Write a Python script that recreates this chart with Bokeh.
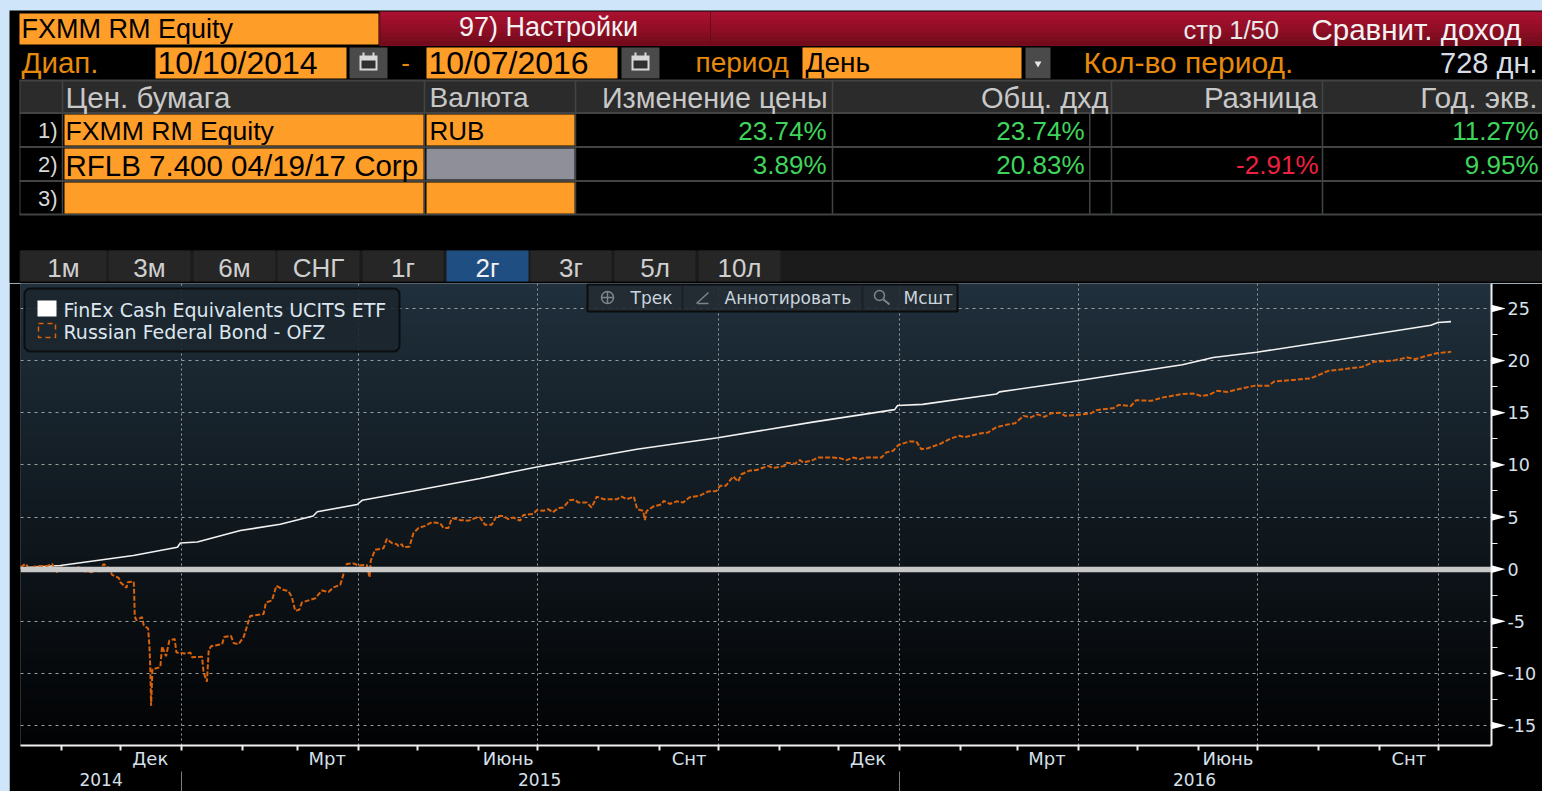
from datetime import datetime, timedelta
import numpy as np
from bokeh.plotting import figure
from bokeh.models import (Range1d, LinearAxis, FixedTicker, Grid, Label, BoxAnnotation)
from bokeh.core.properties import value
from bokeh.embed import file_html
from bokeh.resources import INLINE

# ---------- data ----------
START = datetime(2014, 10, 10)
white_days = [0, 21.3, 58.4, 80.8, 82.3, 90.9, 112.8, 133.1, 149.8, 151.9, 172.2, 174.7, 200.6, 234.7, 263.6,
              314.4, 355.6, 403.8, 445.5, 447, 459.7, 497.3, 498.8, 539.2, 591.8, 607.5, 629.6, 674.4, 718.2,
              721.8, 728.4]
white_vals = [0.1, 0.35, 1.3, 2.1, 2.5, 2.6, 3.7, 4.3, 5.1, 5.5, 6.2, 6.6, 7.5, 8.7, 9.8,
              11.5, 12.6, 14.1, 15.3, 15.7, 15.8, 16.8, 17.0, 18.1, 19.6, 20.3, 20.8, 22.1, 23.4,
              23.65, 23.74]
orange_days = [1, 3.6, 5.2, 9.5, 14.6, 17.1, 19.6, 21.3, 27.3, 30.6, 31.5, 37.4, 39.1, 40.8, 43.3, 45.9, 47.6, 51,
               51.8, 54.9, 55.5, 58.6, 58.9, 59.1, 59.9, 62.8, 63.7, 65.9, 66.5, 67, 67.4, 68.1, 72.1, 73, 75, 76.7,
               79.4, 80.3, 85.7, 87.4, 88.2, 93.3, 94.1, 95.8, 96.7, 97.9, 103.5, 104.6, 108, 109.4, 111.9, 114.5,
               117.8, 124.6, 125.8, 128.9, 131.1, 134.8, 137.3, 139, 140.7, 142.7, 144.1, 150.9, 154.2, 157.6, 160.2,
               163.6, 165.3, 166.9, 170.3, 172.9, 177.1, 178.5, 179.1, 181.3, 185.6, 187.3, 189.8, 192.3, 193.2,
               194.9, 195.7, 198.8, 200.8, 203.4, 206.7, 210.1, 214.4, 216.1, 218.6, 220.3, 224.5, 228.8, 233,
               234.7, 237.2, 240.6, 243.1, 246.5, 249.1, 251.6, 255, 256.7, 261.8, 263.5, 266.9, 269.4, 271.6,
               274.5, 277, 280.1, 282.9, 284.6, 288.9, 291.4, 294, 297.7, 304.1, 306.7, 309.2, 312.9, 314.6,
               317.6, 318.5, 319.3, 322.7, 326.9, 328.1, 331.2, 334.6, 338, 341.3, 346.4, 350.7, 354.9, 356.9,
               359.7, 363.4, 365.9, 367.6, 371.8, 375.2, 381.1, 383.7, 389.6, 390.5, 394.7, 397.3, 398.9, 403.2,
               406.6, 414.2, 417.6, 421, 424.3, 427.7, 430.3, 438.8, 441.3, 444.7, 447.3, 453.1, 456.5, 459.1,
               462.4, 468.4, 474.3, 478.5, 481, 488.7, 492.9, 497.1, 502.4, 506.8, 511.1, 514.7, 518.2, 521.7,
               525.2, 529.6, 532.2, 539.3, 545.4, 548, 556.8, 559.4, 565.6, 568.3, 576.1, 581.4, 591.9, 597.2,
               601.6, 605.1, 609.5, 614.8, 620.1, 628.8, 635.8, 638.5, 648.1, 657, 662.2, 665.7, 674.5, 683.3,
               689.4, 699, 706, 710.5, 714.8, 721, 728.5]
orange_vals = [0.2, 0.5, 0.1, 0.3, 0.3, 0.5, -0.3, 0.2, -0.2, 0.2, -0.15, -0.3, 0.1, -0.3, 0.5, 0.1, -0.55, -0.85,
               -1.25, -1.8, -1.25, -1.2, -3, -4.55, -4.9, -4.6, -5.4, -5.7, -7.2, -9.4, -13.1, -9.6, -9.4, -7.4, -8.35, -6.85,
               -6.7, -8.0, -8.1, -8.0, -8.45, -8.4, -9.9, -10.8, -7.8, -7.4, -7.2, -6.5, -6.4, -7.1, -7.2, -6.5,
               -4.5, -4.3, -3.2, -3, -1.6, -2, -2.1, -2.7, -4, -3.9, -3.2, -2.8, -2.05, -2.2, -1.75,
               -1.5, -0.45, 0.5, 0.55, 0.35, 0.4, -0.8, 0.8, 1.85, 2, 2.9, 2.5, 2.4, 2.2,
               2.4, 2.1, 2.15, 3.45, 3.95, 4.15, 4.5, 4.4, 3.95, 3.95, 4.9, 4.7, 4.65, 4.95,
               4.95, 4.25, 4.25, 5.1, 5.1, 4.8, 4.95, 4.65, 5.2, 5.3, 5.65, 5.6, 5.75, 5.45,
               5.85, 5.9, 6.6, 6.65, 6.4, 6.4, 5.9, 6.95, 6.7, 6.7, 6.95, 6.7, 6.95, 5.75,
               5.6, 4.7, 5.55, 6, 6.2, 6.55, 6.25, 6.5, 6.4, 6.9, 7.05, 7.45, 7.5, 8,
               8, 8.9, 8.4, 9.1, 9.45, 9.5, 9.9, 9.7, 9.9, 10.2, 10.1, 10.45, 10.25, 10.4,
               10.7, 10.7, 10.65, 10.45, 10.7, 10.55, 10.7, 10.7, 11.2, 11.35, 11.9, 12.25, 12.25, 11.5,
               11.6, 12, 12.55, 12.8, 12.65, 13, 13.1, 13.6, 13.85, 14, 14.7, 14.55, 14.85, 14.6,
               14.95, 15, 14.7, 14.8, 14.95, 15.25, 15.45, 15.75, 15.65, 16.2, 16.15, 16.45, 16.8, 16.85,
               16.6, 16.7, 17.1, 17, 17.25, 17.6, 17.6, 18, 18.15, 18.3, 18.7, 19, 19.2, 19.4,
               19.9, 20, 20.3, 20.15, 20.4, 20.7, 20.85]
y_ticks = [-15, -10, -5, 0, 5, 10, 15, 20, 25]
y_minor = [-12.5, -7.5, -2.5, 2.5, 7.5, 12.5, 17.5, 22.5]
quarter_starts = ["2015-01-01", "2015-04-01", "2015-07-01", "2015-10-01", "2016-01-01", "2016-04-01", "2016-07-01", "2016-10-01"]
month_starts = ["2014-11-01", "2014-12-01", "2015-01-01", "2015-02-01", "2015-03-01", "2015-04-01", "2015-05-01",
                "2015-06-01", "2015-07-01", "2015-08-01", "2015-09-01", "2015-10-01", "2015-11-01", "2015-12-01",
                "2016-01-01", "2016-02-01", "2016-03-01", "2016-04-01", "2016-05-01", "2016-06-01", "2016-07-01",
                "2016-08-01", "2016-09-01", "2016-10-01"]
month_labels = {"2014-12-16": "Дек", "2015-03-16": "Мрт", "2015-06-16": "Июнь", "2015-09-16": "Снт",
                "2015-12-16": "Дек", "2016-03-16": "Мрт", "2016-06-16": "Июнь", "2016-09-16": "Снт"}
year_labels = {"2014-11-21": "2014", "2015-07-02": "2015", "2016-05-30": "2016"}
year_starts = ["2015-01-01", "2016-01-01"]
tabs = ["1м", "3м", "6м", "СНГ", "1г", "2г", "3г", "5л", "10л"]
rows = [("1)", "FXMM RM Equity", "RUB", "23.74%", "23.74%", "", "11.27%"),
        ("2)", "RFLB 7.400 04/19/17 Corp", "", "3.89%", "20.83%", "-2.91%", "9.95%"),
        ("3)", "", "", "", "", "", "")]
series_names = ["FinEx Cash Equivalents UCITS ETF", "Russian Federal Bond - OFZ"]

# ---------- style ----------
BLUE = "#cfe6fa"
ORANGE = "#fe9d28"
AMBER = "#e58a0c"
GREEN = "#3fd45c"
RED = "#f0213f"
LINE = "#414345"
HEAD = "Liberation Sans"
CHART = "DejaVu Sans"


def ms(s):
    return datetime.fromisoformat(s).timestamp() * 1000


def dms(n):
    return (START + timedelta(days=n)).timestamp() * 1000


# ---------- header panel (page pixels) ----------
h = figure(width=1542, height=283, x_range=Range1d(0, 1542), y_range=Range1d(283, 0),
           output_backend="svg", toolbar_location=None, min_border=0, outline_line_color=None,
           background_fill_color=BLUE, border_fill_color=BLUE)
h.axis.visible = False
h.grid.visible = False


def Q(x0, x1, y0, y1, c):
    h.quad(left=[x0], right=[x1], top=[y0], bottom=[y1], fill_color=c, line_alpha=0)


def T(x, y, s, c="#d6d6d6", size=26, align="left", font=HEAD):
    if s:
        h.text(x=[x], y=[y], text=[s], text_color=c, text_font_size=f"{size}px", text_align=align,
               text_baseline="middle", text_font=value(font))


Q(9, 1542, 10, 283, "#000000")
# title bar
reds = ["#a81130", "#a2102d", "#9b0f2a", "#950e28", "#8d0e25", "#850d22", "#7c0c20", "#730b1d"]
for i, c in enumerate(reds):
    Q(379, 1542, 11 + i * 4.25, 45, c)
Q(709.5, 710.5, 11, 45, "#6a0b1a")
Q(379, 380, 11, 45, "#6a0b1a")
Q(19, 378, 13, 44, ORANGE)
T(21, 28, "FXMM RM Equity", "#000000", 27)
T(548, 26, "97) Настройки", "#f2f2f2", 27, align="center")
T(1183, 29, "стр 1/50", "#e8e8e8", 25.5)
T(1311, 29, "Сравнит. доход", "#f2f2f2", 29.5)
# range row
T(21, 62, "Диап.", AMBER, 29.5)
Q(155, 346, 47, 78, ORANGE)
T(157, 62, "10/10/2014", "#000000", 32)
Q(349, 387, 47, 78, "#4a4a4a")
T(405, 62, "-", AMBER, align="center")
Q(426, 617, 47, 78, ORANGE)
T(428, 62, "10/07/2016", "#000000", 32)
Q(621, 659, 47, 78, "#4a4a4a")
for x0 in (359, 631):  # calendar icons
    Q(x0, x0 + 18, 55, 70, "#d8d8d8")
    Q(x0 + 2, x0 + 16, 60, 68, "#303030")
    Q(x0 + 3, x0 + 5, 52, 56, "#d8d8d8")
    Q(x0 + 13, x0 + 15, 52, 56, "#d8d8d8")
T(695, 62, "период", AMBER, 28)
Q(802, 1021, 47, 78, ORANGE)
T(805, 62, "День", "#000000", 28)
Q(1025, 1050, 47, 78, "#4a4a4a")
h.scatter(x=[1037.5], y=[63], marker="inverted_triangle", size=7, fill_color="#e8e8e8", line_color=None)
T(1083, 62, "Кол-во период.", AMBER, 30)
T(1537, 62, "728 дн.", "#d6dde4", 29, align="right")
# table
Q(19, 1542, 80, 112, "#2b2b2b")
col_x = [62, 424, 575, 832, 1111, 1322]
for y in (80, 112.5, 146.5, 180.5, 214):
    Q(19, 1542, y - 1, y + 1, LINE)
for x in col_x:
    Q(x - 0.75, x + 0.75, 80, 214, LINE)
Q(19, 20, 80, 214, LINE)
Q(1088.5, 1090, 113, 214, LINE)
T(65, 97, "Цен. бумага", "#c8c8c8", 29.5)
T(429, 97, "Валюта", "#c8c8c8", 28)
T(827, 97, "Изменение цены", "#c8c8c8", 28.7, align="right")
T(1108, 97, "Общ. дхд", "#c8c8c8", 29, align="right")
T(1317, 97, "Разница", "#c8c8c8", 29.3, align="right")
T(1537, 97, "Год. экв.", "#c8c8c8", 30, align="right")
for i, r in enumerate(rows):
    y0, y1 = 114 + i * 34, 145 + i * 34
    ym = (y0 + y1) / 2
    Q(64, 423, y0, y1, ORANGE)
    Q(426, 574, y0, y1, "#8f8f99" if i == 1 else ORANGE)
    T(57, ym, r[0], "#d8d8d8", 22, "right")
    T(65, ym + 1, r[1], "#000000", 29.5 if i == 1 else 26.6)
    T(429, ym + 1, r[2], "#000000")
    T(826, ym + 1, r[3], GREEN, 26, align="right")
    T(1084, ym + 1, r[4], GREEN, 26, align="right")
    T(1318, ym + 1, r[5], RED, 26, align="right")
    T(1538, ym + 1, r[6], GREEN, 26, align="right")
# period tabs
Q(19, 1542, 250, 283, "#1b1b1b")
Q(19, 1542, 281, 283, "#000000")
tab_l = [20, 108, 193, 277, 362, 446, 530, 614, 698]
tab_r = [106, 190, 275, 359, 443, 528, 611, 695, 780]
for s, l, r in zip(tabs, tab_l, tab_r):
    sel = s == "2г"
    Q(l, r, 250, 281, "#1f4e82" if sel else "#262626")
    T((l + r) / 2, 267, s, "#f0f0f0" if sel else "#cfcfcf", align="center")

# ---------- chart ----------
x0, x1 = ms("2014-10-11"), ms("2016-10-28")
FL, FR, FT, FB = 20, 1491, 283, 745
ppd = (x1 - x0) / (FR - FL)
upx = 40 / (725 - 308)


def px(v):
    return x0 + (v - FL) * ppd


def py(v):
    return 25 - (v - 308) * upx


p = figure(width=1533, height=508, frame_width=FR - FL, frame_height=FB - FT,
           x_range=Range1d(x0, x1), y_range=Range1d(py(FB), py(FT)),
           output_backend="svg", toolbar_location=None, min_border_left=11, min_border_right=51,
           min_border_top=0, min_border_bottom=46, outline_line_color=None,
           background_fill_color="#000000", border_fill_color="#000000", x_axis_location=None, y_axis_location=None,
           styles={"margin-left": "9px"})
p.grid.visible = False

# vertical background shading
top_c, bot_c = np.array([32, 48, 60]), np.array([2, 3, 4])
N = 120
img = np.zeros((N, 1), dtype=np.uint32)
view = img.view(np.uint8).reshape((N, 1, 4))
for i in range(N):
    c = bot_c + (top_c - bot_c) * (i / (N - 1))
    view[i, 0] = [int(c[0]), int(c[1]), int(c[2]), 255]
p.image_rgba(image=[img], x=x0, y=py(FB), dw=x1 - x0, dh=py(FT) - py(FB), level="image")

p.add_layout(Grid(dimension=1, ticker=FixedTicker(ticks=y_ticks), grid_line_color="#9b9ea1",
                  grid_line_dash="3 4", grid_line_width=1))
p.add_layout(Grid(dimension=0, ticker=FixedTicker(ticks=[ms(s) for s in quarter_starts]), grid_line_color="#9b9ea1",
                  grid_line_dash="2 3", grid_line_width=1))

p.line([dms(n) for n in white_days], white_vals, line_color="#f2f2f2", line_width=1.6)
p.line([dms(n) for n in orange_days], orange_vals, line_color="#d9620c", line_width=2, line_dash="5 2")
p.hspan(y=[0], line_color="#c9c9c9", line_width=5.5)

# axes
ax = LinearAxis(ticker=FixedTicker(ticks=[ms(s) for s in month_labels], minor_ticks=[ms(s) for s in month_starts]),
                major_label_overrides={ms(k): v for k, v in month_labels.items()},
                axis_line_color="#f0f0f0", axis_line_width=2, major_tick_out=0, major_tick_in=0,
                minor_tick_out=5, minor_tick_in=0, minor_tick_line_color="#f0f0f0", minor_tick_line_width=2,
                major_label_text_color="#d6e0ea", major_label_text_font=CHART, major_label_text_font_size="18px",
                major_label_standoff=-3)
p.add_layout(ax, "below")
ay = LinearAxis(ticker=FixedTicker(ticks=[ms(s) for s in year_labels], minor_ticks=[ms(s) for s in year_starts]),
                major_label_overrides={ms(k): v for k, v in year_labels.items()},
                axis_line_color=None, major_tick_out=0, major_tick_in=0,
                minor_tick_out=24, minor_tick_in=0, minor_tick_line_color="#7d7d7d", minor_tick_line_width=1,
                major_label_text_color="#d6e0ea", major_label_text_font=CHART, major_label_text_font_size="17px",
                major_label_standoff=-23)
p.add_layout(ay, "below")
ar = LinearAxis(ticker=FixedTicker(ticks=y_ticks, minor_ticks=y_minor),
                major_label_overrides={v: str(v) for v in y_ticks},
                axis_line_color="#f0f0f0", axis_line_width=2, major_tick_out=0, major_tick_in=0,
                minor_tick_out=6, minor_tick_in=0, minor_tick_line_color="#f0f0f0", minor_tick_line_width=1,
                major_label_text_color="#d6e0ea", major_label_text_font=CHART, major_label_text_font_size="17.5px",
                major_label_standoff=10)
p.add_layout(ar, "right")

# legend box
p.add_layout(BoxAnnotation(left=px(24), right=px(399), top=py(288), bottom=py(351), fill_color="#1c262d", fill_alpha=0.88,
                           line_color="#0b0e10", line_width=2, line_alpha=1, border_radius=6))
p.add_layout(BoxAnnotation(left=px(37), right=px(56), top=py(300), bottom=py(316), fill_color="#ffffff", fill_alpha=1, line_color=None))
p.add_layout(BoxAnnotation(left=px(38), right=px(55), top=py(323), bottom=py(337), fill_alpha=0, line_color="#d9620c",
                           line_alpha=1, line_width=1.5, line_dash="5 4"))
for s, yy in zip(series_names, (309, 331)):
    p.add_layout(Label(x=px(63), y=py(yy), text=s, text_color="#dde6ee", text_font=CHART, text_font_size="19px",
                       text_baseline="middle", text_align="left"))

# tool strip
p.add_layout(BoxAnnotation(left=px(587), right=px(957), top=py(284), bottom=py(311), fill_color="#232c33", fill_alpha=0.9,
                           line_color="#0a0c0e", line_width=2, line_alpha=1))
for xs in (681, 861):
    p.add_layout(BoxAnnotation(left=px(xs), right=px(xs + 2), top=py(285), bottom=py(310), fill_color="#1a2026", fill_alpha=1, line_color=None))
for s, xx in (("Трек", 630), ("Аннотировать", 724), ("Мсшт", 903)):
    p.add_layout(Label(x=px(xx), y=py(297), text=s, text_color="#c9d4de", text_font=CHART, text_font_size="17px",
                       text_baseline="middle", text_align="left"))
# tool icons
ICON = "#7b858d"
p.scatter(x=[px(607)], y=[py(297)], marker="circle_cross", size=12, fill_color=None, line_color=ICON, line_width=1.5, level="overlay")
p.segment(x0=[px(696), px(697)], y0=[py(303), py(303)], x1=[px(708), px(708)], y1=[py(292), py(303)], line_color=ICON, line_width=1.5, level="overlay")
p.scatter(x=[px(879)], y=[py(295)], marker="circle", size=10, fill_color=None, line_color=ICON, line_width=1.5, level="overlay")
p.segment(x0=[px(883)], y0=[py(299)], x1=[px(889)], y1=[py(304)], line_color=ICON, line_width=2, level="overlay")

# tick pennants beside the value axis
t = figure(width=14, height=FB - FT, x_range=Range1d(0, 1), y_range=Range1d(py(FB), py(FT)),
           output_backend="svg", toolbar_location=None, min_border=0, outline_line_color=None,
           background_fill_color=None, border_fill_color=None,
           styles={"position": "absolute", "left": f"{FR}px", "top": f"{FT}px"})
t.axis.visible = False
t.grid.visible = False
t.patches(xs=[[0, 0, 1] for v in y_ticks], ys=[[v + 0.36, v - 0.36, v] for v in y_ticks],
          fill_color="#ffffff", line_color=None)

html = file_html([h, p, t], INLINE).replace("<head>", f"<head><style>html,body{{background:{BLUE};overflow:hidden}}</style>", 1)
open("out.html", "w").write(html)
